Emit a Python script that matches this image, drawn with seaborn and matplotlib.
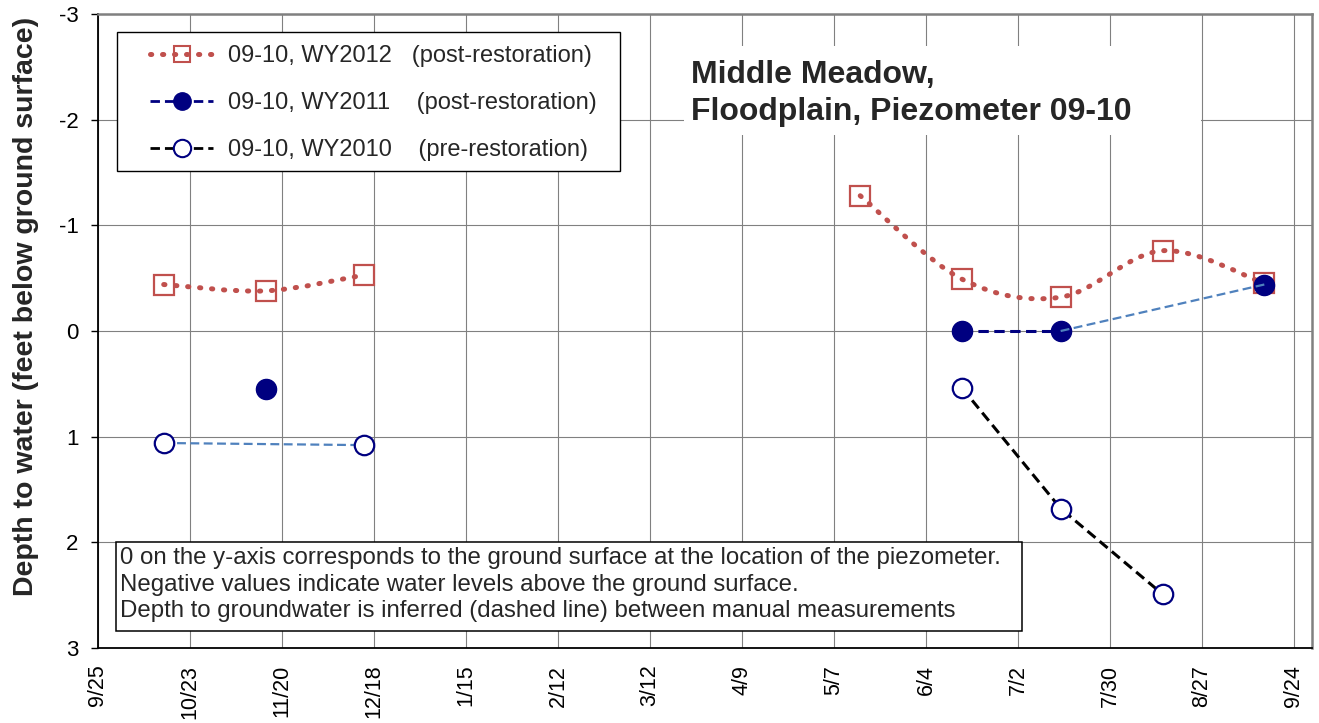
import matplotlib
matplotlib.use("Agg")
import matplotlib.pyplot as plt
from matplotlib.path import Path
from matplotlib.patches import PathPatch, Rectangle
from matplotlib.lines import Line2D
import matplotlib.dates as mdates
import pandas as pd
import seaborn as sns

# Water-year axis labels, every 28 days
tick_labels = ["9/25", "10/23", "11/20", "12/18", "1/15", "2/12", "3/12",
               "4/9", "5/7", "6/4", "7/2", "7/30", "8/27", "9/24"]
y_ticks = [-3, -2, -1, 0, 1, 2, 3]

# Piezometer 09-10 manual readings (month/day, depth in ft below ground)
wy2012_dates = ["10/15", "11/15", "12/15", "5/15", "6/15", "7/15", "8/15", "9/15"]
wy2012_depth = [-0.44, -0.38, -0.53, -1.28, -0.49, -0.32, -0.76, -0.45]

wy2011_dates = ["11/15", "6/15", "7/15", "9/15"]
wy2011_depth = [0.55, 0.0, 0.0, -0.44]

wy2010_dates = ["10/15", "12/15", "6/15", "7/15", "8/15"]
wy2010_depth = [1.06, 1.08, 0.54, 1.68, 2.49]

legend_labels = ["09-10, WY2012   (post-restoration)",
                 "09-10, WY2011    (post-restoration)",
                 "09-10, WY2010    (pre-restoration)"]

title_text = "Middle Meadow,\nFloodplain, Piezometer 09-10"
note_text = ("0 on the y-axis corresponds to the ground surface at the location of the piezometer.\n"
             "Negative values indicate water levels above the ground surface.\n"
             "Depth to groundwater is inferred (dashed line) between manual measurements")

RED = "#C0504D"
NAVY = "#000080"
LIGHT_BLUE = "#4F81BD"


def wy_date(md):
    """Place a month/day on a common (non-leap) water-year axis starting 9/25."""
    m, d = (int(v) for v in md.split("/"))
    year = 2010 if (m, d) >= (9, 25) else 2011
    return pd.Timestamp(year=year, month=m, day=d)


def frame(dates, depth):
    return pd.DataFrame({"date": [wy_date(s) for s in dates], "depth": depth})


def smooth_path(xs, ys):
    """Cubic Bezier path through the points (Catmull-Rom style tangents)."""
    n = len(xs)
    verts = [(xs[0], ys[0])]
    codes = [Path.MOVETO]
    for i in range(n - 1):
        a, b = max(i - 1, 0), min(i + 2, n - 1)
        c1 = (xs[i] + (xs[i + 1] - xs[a]) / 6, ys[i] + (ys[i + 1] - ys[a]) / 6)
        c2 = (xs[i + 1] - (xs[b] - xs[i]) / 6, ys[i + 1] - (ys[b] - ys[i]) / 6)
        verts += [c1, c2, (xs[i + 1], ys[i + 1])]
        codes += [Path.CURVE4] * 3
    return Path(verts, codes)


df12 = frame(wy2012_dates, wy2012_depth)
df11 = frame(wy2011_dates, wy2011_depth)
df10 = frame(wy2010_dates, wy2010_depth)

sns.set_style("white")
plt.rcParams["font.family"] = ["Liberation Sans", "DejaVu Sans"]
plt.rcParams["axes.unicode_minus"] = False

W, H = 1319, 723
fig = plt.figure(figsize=(W / 100, H / 100), dpi=100)
L, R, T, B = 98, 1312, 14, 648
ax = fig.add_axes([L / W, 1 - B / H, (R - L) / W, (B - T) / H])

DOT_LW = 3.6
DOTS = (0, (0.25, 2.15))
LIGHT_DASH = (0, (4.0, 2.0))
DARK_DASH = (0, (3.4, 1.8))

# WY2012: smoothed dotted curve, broken over the winter gap
for run in (slice(0, 3), slice(3, 8)):
    sub = df12.iloc[run]
    xs = list(mdates.date2num(sub["date"]))
    ys = list(sub["depth"])
    ax.add_patch(PathPatch(smooth_path(xs, ys), fill=False, edgecolor=RED,
                           lw=DOT_LW, linestyle=DOTS, capstyle="round", zorder=3))

# Measured (dark) and inferred (light blue) dashed segments
line_kw = dict(x="date", y="depth", estimator=None, sort=False, ax=ax, legend=False)
sns.lineplot(data=df11.iloc[1:3], color=NAVY, lw=2.2, ls=DARK_DASH, zorder=4, **line_kw)
sns.lineplot(data=df10.iloc[2:5], color="black", lw=2.2, ls=DARK_DASH, zorder=4, **line_kw)
sns.lineplot(data=df10.iloc[0:2], color=LIGHT_BLUE, lw=1.6, ls=LIGHT_DASH, zorder=4, **line_kw)

# Markers
mk_kw = dict(x="date", y="depth", estimator=None, sort=False, ax=ax, legend=False, ls="none")
sns.lineplot(data=df12, marker="s", ms=14, mfc="none", mec=RED, mew=1.6,
             color=RED, zorder=5, **mk_kw)
sns.lineplot(data=df10, marker="o", ms=14, mfc="white", mec=NAVY, mew=1.6,
             color=NAVY, zorder=5, **mk_kw)
sns.lineplot(data=df11, marker="o", ms=14.5, mfc=NAVY, mec=NAVY, mew=1.0,
             color=NAVY, zorder=6, **mk_kw)
sns.lineplot(data=df11.iloc[2:4], color=LIGHT_BLUE, lw=1.6, ls=LIGHT_DASH, zorder=7, **line_kw)

# Axes, ticks and grid
tick_dates = [wy_date(s) for s in tick_labels]
x0 = tick_dates[0]
ax.set_xlim(x0, x0 + pd.Timedelta(days=369.5))
ax.set_xticks(tick_dates)
ax.set_xticklabels(tick_labels, rotation=90, fontsize=15.5)
ax.set_ylim(3, -3)
ax.set_yticks(y_ticks)
ax.set_yticklabels([str(v) for v in y_ticks], fontsize=16)
ax.tick_params(axis="x", length=0, pad=12, colors="black")
ax.tick_params(axis="y", length=5, width=1, pad=9, colors="black", direction="out", left=True)
ax.grid(True, color="#808080", lw=0.8)
ax.set_axisbelow(True)
ax.set_xlabel("")
ax.set_ylabel("Depth to water (feet below ground surface)", fontsize=20.5,
              fontweight="bold")
ax.yaxis.set_label_coords(-0.049, 0.538)
for side in ("left", "bottom"):
    ax.spines[side].set_color("black")
    ax.spines[side].set_linewidth(1.3)
for side in ("top", "right"):
    ax.spines[side].set_color("#808080")
    ax.spines[side].set_linewidth(1.8)


def axfrac(px, py):
    return ((px - L) / (R - L), (B - py) / (B - T))


# Legend with its own frame box
handles = [
    Line2D([], [], color=RED, lw=DOT_LW, ls=DOTS, dash_capstyle="round",
           marker="s", ms=12, mfc="none", mec=RED, mew=1.5),
    Line2D([], [], color=NAVY, lw=2.0, ls=DARK_DASH, marker="o", ms=12.5,
           mfc=NAVY, mec=NAVY),
    Line2D([], [], color="black", lw=2.0, ls=DARK_DASH, marker="o", ms=12.5,
           mfc="white", mec=NAVY, mew=1.5),
]
bx, by = axfrac(117, 171)
bx2, by2 = axfrac(620, 32)
ax.add_patch(Rectangle((bx, by), bx2 - bx, by2 - by, transform=ax.transAxes,
                       fill=True, facecolor="white", edgecolor="black", lw=1.0, zorder=8))
lx, ly = axfrac(150, 45)
leg = ax.legend(handles, legend_labels, loc="upper left", bbox_to_anchor=(lx, ly),
                bbox_transform=ax.transAxes, frameon=False, fontsize=17,
                borderpad=0, borderaxespad=0, handlelength=2.67,
                handletextpad=0.64, labelspacing=1.06)
leg.set_zorder(9)

# Title block on a plain white panel (hides the grid behind it)
px0, py0 = axfrac(684, 135)
px1, py1 = axfrac(1201, 46)
ax.add_patch(Rectangle((px0, py0), px1 - px0, py1 - py0, transform=ax.transAxes,
                       facecolor="white", edgecolor="none", zorder=2))
tx, ty = axfrac(691, 60)
ax.text(tx, ty, title_text, transform=ax.transAxes, ha="left", va="top",
        fontsize=23, fontweight="bold", linespacing=1.3, zorder=9)

# Note box
nx, ny = axfrac(116, 631)
nx2, ny2 = axfrac(1022, 542)
ax.add_patch(Rectangle((nx, ny), nx2 - nx, ny2 - ny, transform=ax.transAxes,
                       facecolor="white", edgecolor="black", lw=1.1, zorder=8))
ttx, tty = axfrac(120, 584.5)
ax.text(ttx, tty, note_text, transform=ax.transAxes, ha="left", va="center",
        fontsize=17.3, linespacing=1.25, zorder=9)

fig.savefig("out.png", dpi=100)
